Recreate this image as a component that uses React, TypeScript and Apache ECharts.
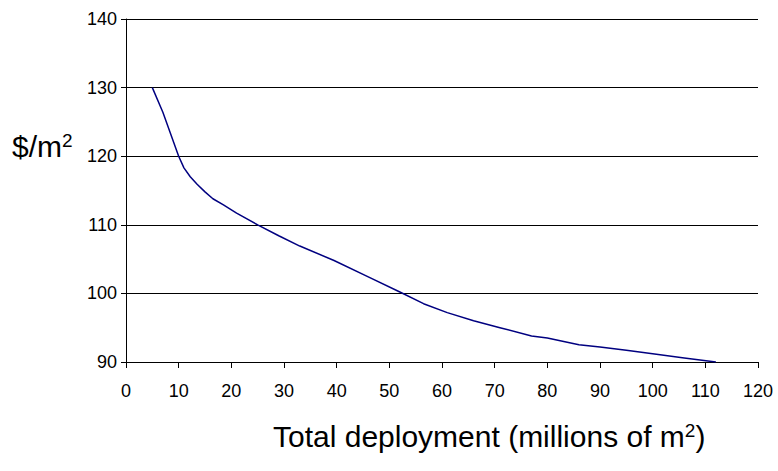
import React, { useEffect, useRef } from "react";
import * as echarts from "echarts";

const deployment = [5, 7, 8.5, 10, 11, 12.2, 13.5, 15, 16.5, 18.5, 21, 25, 29, 33, 39.5, 46, 52, 56.5, 61, 66, 71, 77, 80, 86, 90, 95, 100, 106, 112];
const price = [130, 126.4, 123.2, 120, 118.3, 117, 115.9, 114.8, 113.8, 112.9, 111.7, 110, 108.4, 106.9, 104.8, 102.4, 100.2, 98.5, 97.2, 96, 95, 93.8, 93.5, 92.5, 92.2, 91.7, 91.2, 90.6, 90];

const FONT = "'Liberation Sans', Arial, sans-serif";

export default function App() {
  const ref = useRef<HTMLDivElement>(null);
  useEffect(() => {
    if (!ref.current) return;
    const chart = echarts.init(ref.current, null, { renderer: "svg" });
    chart.setOption({
      animation: false,
      backgroundColor: "#ffffff",
      grid: { left: 126, right: 20, top: 19, bottom: 109, containLabel: false },
      xAxis: {
        type: "value",
        min: 0,
        max: 120,
        interval: 10,
        axisLine: { show: true, onZero: false, lineStyle: { color: "#000", width: 1 } },
        axisTick: { show: true, length: 6, lineStyle: { color: "#000" } },
        axisLabel: { fontFamily: FONT, fontSize: 18, color: "#000", margin: 20 },
        splitLine: { show: false },
      },
      yAxis: {
        type: "value",
        min: 90,
        max: 140,
        interval: 10,
        axisLine: { show: true, lineStyle: { color: "#000", width: 1 } },
        axisTick: { show: true, length: 5, lineStyle: { color: "#000" } },
        axisLabel: { fontFamily: FONT, fontSize: 18, color: "#000", margin: 9 },
        splitLine: { show: true, lineStyle: { color: "#000", width: 1 } },
      },
      graphic: [
        {
          type: "text",
          x: 12,
          y: 146,
          style: {
            text: "{a|$/m}{s|2}",
            verticalAlign: "middle",
            rich: {
              a: { fontFamily: FONT, fontSize: 30, fill: "#000", verticalAlign: "bottom" },
              s: { fontFamily: FONT, fontSize: 19, fill: "#000", verticalAlign: "top" },
            },
          },
        },
        {
          type: "text",
          x: 273,
          y: 436,
          style: {
            text: "{a|Total deployment (millions of m}{s|2}{a|)}",
            verticalAlign: "middle",
            rich: {
              a: { fontFamily: FONT, fontSize: 30, fill: "#000", verticalAlign: "bottom" },
              s: { fontFamily: FONT, fontSize: 19, fill: "#000", verticalAlign: "top" },
            },
          },
        },
      ],
      series: [
        {
          type: "line",
          data: deployment.map((d, i) => [d, price[i]]),
          showSymbol: false,
          smooth: false,
          lineStyle: { color: "#000080", width: 1.5 },
        },
      ],
    });
    return () => chart.dispose();
  }, []);
  return <div ref={ref} style={{ width: 778, height: 471, position: "absolute", left: 0, top: 0 }} />;
}
